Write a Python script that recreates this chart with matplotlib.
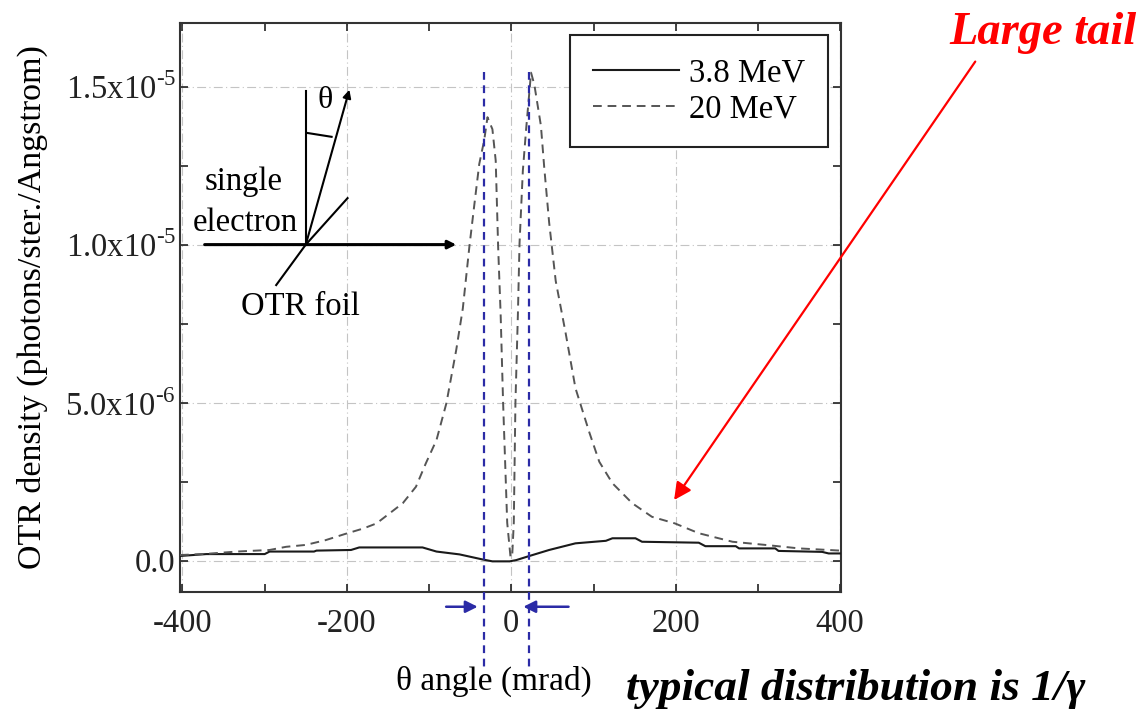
import matplotlib
matplotlib.use('Agg')
import matplotlib.pyplot as plt
import numpy as np
from matplotlib.ticker import MultipleLocator

plt.rcParams['font.family'] = ['Liberation Serif', 'DejaVu Serif']
plt.rcParams['mathtext.fontset'] = 'custom'
plt.rcParams['mathtext.rm'] = 'Liberation Serif'
plt.rcParams['axes.unicode_minus'] = False

# ---- data (density in units of 1e-6 photons/ster./Angstrom) ----
angle_38 = [-403, -371, -300, -294, -240, -237, -195, -185, -108, -91, -63, -35,
            -23, -2, 6, 22, 46, 78, 115, 123, 151, 159, 228, 236, 273, 277,
            321, 325, 378, 386, 400]
dens_38 = [0.15, 0.21, 0.21, 0.29, 0.29, 0.32, 0.34, 0.42, 0.42, 0.29, 0.20, 0.04,
           -0.02, -0.02, 0.02, 0.15, 0.34, 0.55, 0.63, 0.71, 0.71, 0.60, 0.57, 0.46,
           0.46, 0.39, 0.39, 0.31, 0.28, 0.23, 0.23]

angle_20 = [-403, -375, -334, -294, -274, -250, -226, -203, -180, -164, -148, -132,
            -116, -104, -91, -79, -67, -59, -51, -45, -39, -33, -29, -23, -19, -16,
            -13, -10, -5, -1, 1, 3, 5, 8, 10, 14, 18, 24, 28, 36, 40, 46, 54, 66,
            78, 95, 107, 123, 147, 171, 199, 228, 269, 309, 350, 400]
dens_20 = [0.18, 0.21, 0.29, 0.34, 0.44, 0.50, 0.65, 0.84, 1.02, 1.18, 1.50, 1.82,
           2.34, 3.08, 3.82, 4.98, 6.67, 7.98, 9.94, 11.26, 12.55, 13.30, 14.03, 13.65,
           12.66, 9.90, 7.80, 5.00, 1.20, 0.12, 0.12, 1.20, 5.00, 7.80, 10.05, 12.33,
           13.65, 15.44, 15.06, 13.76, 12.45, 10.70, 8.85, 7.21, 5.46, 4.05, 3.13,
           2.45, 1.82, 1.39, 1.18, 0.87, 0.60, 0.50, 0.39, 0.32]

series_labels = ['3.8 MeV', '20 MeV']
xtick_vals = [-400, -200, 0, 200, 400]
xtick_labels = ['-400', '-200', '0', '200', '400']
ytick_vals = [0.0, 5e-6, 1e-5, 1.5e-5]
ytick_labels = ['0.0', '5.0x10$^{\\mathregular{\u20106}}$',
                '1.0x10$^{\\mathregular{\u20105}}$',
                '1.5x10$^{\\mathregular{\u20105}}$']
marker_angles = [-33, 22]   # blue dashed 1/gamma markers

W, H = 1148, 712
fig = plt.figure(figsize=(W / 100, H / 100), dpi=100)
ax = fig.add_axes([180 / W, (H - 591.7) / H, 661 / W, 569 / H])

ax.plot(angle_38, np.array(dens_38) * 1e-6, color='#1a1a1a', lw=1.5,
        label=series_labels[0], zorder=3)
ax.plot(angle_20, np.array(dens_20) * 1e-6, color='#555555', lw=1.4,
        ls=(0, (4.5, 3)), label=series_labels[1], zorder=3)

ax.set_xlim(-403, 401)
ax.set_ylim(-0.98e-6, 17.02e-6)

ax.set_xticks(xtick_vals, xtick_labels)
ax.set_yticks(ytick_vals, ytick_labels)
ax.xaxis.set_minor_locator(MultipleLocator(100))
ax.yaxis.set_minor_locator(MultipleLocator(2.5e-6))
ax.tick_params(which='both', direction='in', top=True, right=True, length=6,
               width=1.2, colors='#222222')
ax.tick_params(axis='x', labelsize=23.5, pad=12)
ax.tick_params(axis='y', labelsize=23.5, pad=3)
ax.grid(True, which='major', color='#c4c4c4', ls=(0, (8, 3, 1, 3)), lw=0.8)
for s in ax.spines.values():
    s.set_linewidth(1.5)
    s.set_color('#333333')

ax.set_xlabel('θ angle (mrad)', fontsize=24)
ax.xaxis.set_label_coords((494 - 180) / 661, (591.7 - 666) / 569)
ax.set_ylabel('OTR density (photons/ster./Angstrom)', fontsize=24.5)
ax.yaxis.set_label_coords((48 - 180) / 661, 0.5)

leg = ax.legend(loc='upper right', bbox_to_anchor=(0.980, 0.978), borderaxespad=0,
                fontsize=23.5, frameon=True, fancybox=False, edgecolor='#222222',
                framealpha=1, handlelength=2.65, handletextpad=0.3,
                labelspacing=0.17, borderpad=0.7)
leg.get_frame().set_linewidth(1.5)

# ---- schematic inset ----
k = 1e-6
O = (-250, 10.0 * k)
ax.annotate('', xy=(-67, 10.0 * k), xytext=(-373, 10.0 * k),
            arrowprops=dict(arrowstyle='-|>', lw=2.2, color='k', mutation_scale=12,
                            shrinkA=0, shrinkB=0))
ax.annotate('', xy=(-197, 14.9 * k), xytext=O,
            arrowprops=dict(arrowstyle='-|>', lw=1.5, color='k', mutation_scale=12,
                            shrinkA=0, shrinkB=0))
ax.plot([-250, -250], [10.0 * k, 14.85 * k], color='k', lw=1.5)
ax.plot([-247.7, -218.6], [13.53 * k, 13.41 * k], color='k', lw=1.5)
ax.plot([-250, -199.2], [10.0 * k, 11.47 * k], color='k', lw=1.5)
ax.plot([-250, -286], [10.0 * k, 8.72 * k], color='k', lw=1.5)
ax.text(-226, 14.57 * k, 'θ', fontsize=23, ha='center', va='center')
ax.text(-326, 12.0 * k, 'single', fontsize=23.5, ha='center', va='center')
ax.text(-324, 10.7 * k, 'electron', fontsize=23.5, ha='center', va='center')
ax.text(-257, 8.05 * k, 'OTR foil', fontsize=23.5, ha='center', va='center')

# ---- blue 1/gamma markers ----
for a in marker_angles:
    ax.plot([a, a], [15.47 * k, -3.4 * k], color='#2b2ba6', lw=1.6,
            ls=(0, (3.5, 2.5)), clip_on=False, zorder=4)
ax.annotate('', xy=(-40.9, -1.456 * k), xytext=(-79.3, -1.456 * k),
            annotation_clip=False,
            arrowprops=dict(arrowstyle='-|>', lw=1.8, color='#2b2ba6',
                            mutation_scale=18, shrinkA=0, shrinkB=0))
ax.annotate('', xy=(14.6, -1.456 * k), xytext=(69.6, -1.456 * k),
            annotation_clip=False,
            arrowprops=dict(arrowstyle='-|>', lw=1.8, color='#2b2ba6',
                            mutation_scale=18, shrinkA=0, shrinkB=0))

# ---- red annotation ----
ax.annotate('', xy=(198, 1.92 * k), xytext=(564.3, 15.79 * k),
            annotation_clip=False,
            arrowprops=dict(arrowstyle='-|>', lw=1.6, color='#ff0000',
                            mutation_scale=26, shrinkA=0, shrinkB=0))
fig.text(949 / W, 1 - 44 / H, 'Large tail', color='#ff0000', fontsize=33.5,
         fontweight='bold', fontstyle='italic', ha='left', va='baseline')
fig.text(626 / W, 1 - 700 / H, 'typical distribution is 1/γ', color='k',
         fontsize=32.7, fontweight='bold', fontstyle='italic', ha='left',
         va='baseline')

fig.savefig('out.png', dpi=100, facecolor='white')
